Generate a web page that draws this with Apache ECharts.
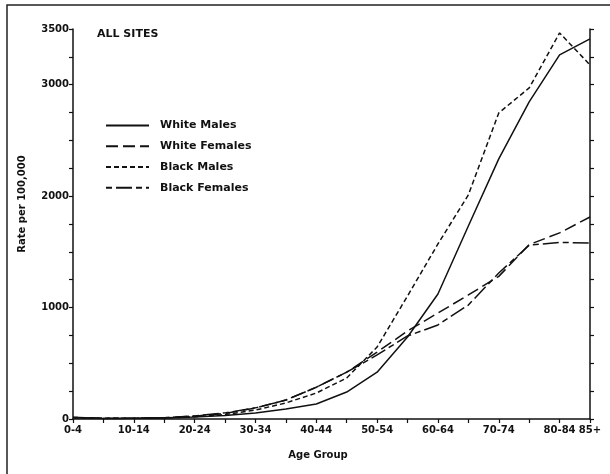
<!DOCTYPE html>
<html>
<head>
<meta charset="utf-8">
<script src="https://cdn.jsdelivr.net/npm/echarts@6/dist/echarts.min.js"></script>
<style>html,body{margin:0;padding:0;background:#fff}#c{width:610px;height:474px}</style>
</head>
<body>
<div id="c"></div>
<script>
const categories = ['0-4','5-9','10-14','15-19','20-24','25-29','30-34','35-39','40-44','45-49','50-54','55-59','60-64','65-69','70-74','75-79','80-84','85+'];
const whiteMales   = [15, 5, 6, 10, 18, 32, 54, 90, 135, 242, 420, 736, 1122, 1732, 2334, 2846, 3268, 3411];
const whiteFemales = [12, 6, 7, 12, 25, 50, 99, 170, 285, 420, 600, 790, 951, 1113, 1280, 1565, 1670, 1813];
const blackMales   = [14, 6, 6, 10, 20, 40, 80, 144, 233, 368, 646, 1104, 1571, 2011, 2747, 2971, 3465, 3178];
const blackFemales = [12, 5, 6, 12, 28, 55, 100, 170, 285, 420, 575, 745, 844, 1023, 1310, 1560, 1585, 1580];
const yLabelValues = [0, 1000, 2000, 3000, 3500];
const seriesNames = ['White Males', 'White Females', 'Black Males', 'Black Females'];

const FONT = 'DejaVu Sans';
const chart = echarts.init(document.getElementById('c'), null, {renderer: 'canvas'});
function mk(name, data, type) {
  return {
    name: name, type: 'line', data: data, symbol: 'none', smooth: false,
    lineStyle: {color: '#111', width: 1.5, type: type},
    itemStyle: {color: '#111'}
  };
}
const axisLineStyle = {color: '#111', width: 1.5};
chart.setOption({
  animation: false,
  backgroundColor: '#fff',
  grid: {left: 73, right: 20, top: 29, bottom: 55, containLabel: false},
  legend: {
    orient: 'vertical', left: 105, top: 120, padding: 0, itemWidth: 43, itemHeight: 14, itemGap: 9.5,
    data: seriesNames,
    itemStyle: {color: 'rgba(0,0,0,0)', borderWidth: 0, opacity: 0},
    textStyle: {fontFamily: FONT, fontSize: 11, fontWeight: 'bold', color: '#111', padding: [0, 0, 0, 6]}
  },
  graphic: [
    {type: 'rect', shape: {x: 7, y: 5, width: 620, height: 490}, style: {fill: 'none', stroke: '#222', lineWidth: 1.5}, silent: true},
    {type: 'text', x: 97, y: 34, style: {text: 'ALL SITES', font: 'bold 11px "DejaVu Sans"', fill: '#111', textVerticalAlign: 'middle'}},
    {type: 'text', x: 22, y: 204, rotation: Math.PI / 2, style: {text: 'Rate per 100,000', font: 'bold 10px "DejaVu Sans"', fill: '#111', textAlign: 'center', textVerticalAlign: 'middle'}},
    {type: 'text', x: 318, y: 455, style: {text: 'Age Group', font: 'bold 10px "DejaVu Sans"', fill: '#111', textAlign: 'center', textVerticalAlign: 'middle'}}
  ],
  xAxis: {
    type: 'category', data: categories, boundaryGap: false,
    axisLine: {lineStyle: axisLineStyle},
    axisTick: {show: true, interval: 0, length: 4, lineStyle: {color: '#111', width: 1.2}},
    axisLabel: {
      interval: function (i) { return i % 2 === 0 || i === categories.length - 1; },
      fontFamily: FONT, fontSize: 10, fontWeight: 'bold', color: '#111', margin: 6
    },
    splitLine: {show: false}
  },
  yAxis: [{
    type: 'value', min: 0, max: 3500, interval: 250, position: 'left',
    axisLine: {show: true, lineStyle: axisLineStyle},
    axisTick: {show: true, length: 4, lineStyle: {color: '#111', width: 1.2}},
    axisLabel: {
      fontFamily: FONT, fontSize: 10, fontWeight: 'bold', color: '#111', margin: 4,
      formatter: function (v) { return yLabelValues.indexOf(v) >= 0 ? String(v) : ''; }
    },
    splitLine: {show: false}
  }, {
    type: 'value', min: 0, max: 3500, interval: 250, position: 'right',
    axisLine: {show: true, lineStyle: axisLineStyle},
    axisTick: {show: true, length: 4, lineStyle: {color: '#111', width: 1.2}},
    axisLabel: {show: false},
    splitLine: {show: false}
  }],
  series: [
    mk('White Males', whiteMales, 'solid'),
    mk('White Females', whiteFemales, [12, 5]),
    mk('Black Males', blackMales, [5, 3]),
    mk('Black Females', blackFemales, [6, 4, 16, 4])
  ]
});
</script>
</body>
</html>
